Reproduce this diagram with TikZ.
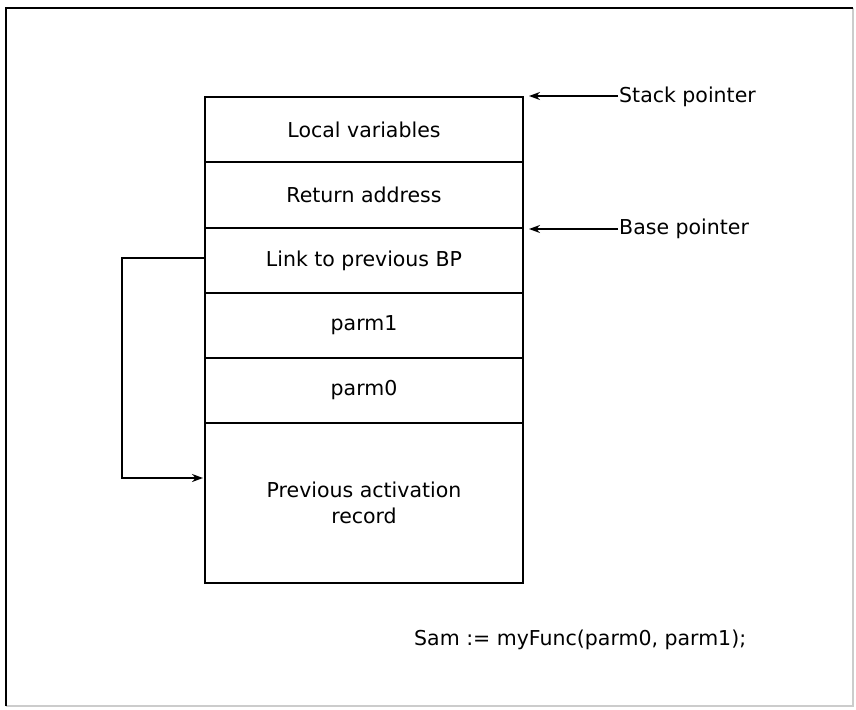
\documentclass[tikz,border=0pt]{standalone}
\usepackage{fontspec}
\setmainfont{DejaVu Sans}
\usetikzlibrary{arrows.meta}
\begin{document}
\begin{tikzpicture}[x=1pt,y=-1pt,
  cell/.style={draw,line width=2pt,minimum width=318pt,inner sep=0pt,font=\fontsize{20.5}{26}\selectfont,align=center},
  lbl/.style={font=\fontsize{20.5}{26}\selectfont,inner sep=1pt},
  ptr/.style={line width=1.5pt,-{Stealth[length=11pt,width=8pt]}}]
\useasboundingbox (0,0) rectangle (856,709);
\fill[white] (0,0) rectangle (856,709);
% frame
\draw[line width=1.2pt,gray!40] (853,8) -- (853,706) -- (6,706);
\draw[line width=1.8pt] (6,706) -- (6,8) -- (853,8);
% stack cells
\node[cell,minimum height=65pt] (local) at (364,129.5) {Local variables};
\node[cell,minimum height=66pt] (ret) at (364,195) {Return address};
\node[cell,minimum height=65pt] (link) at (364,260.5) {Link to previous BP};
\node[cell,minimum height=65pt] (p1) at (364,325.5) {parm1};
\node[cell,minimum height=65pt] (p0) at (364,390.5) {parm0};
\node[cell,minimum height=160pt] (prev) at (364,502.5) {Previous activation\\record};
% pointers
\node[lbl,anchor=west] (sp) at (618,97) {Stack pointer};
\node[lbl,anchor=west] (bp) at (618,229) {Base pointer};
\draw[ptr] (sp.west |- local.north east) -- ([xshift=5pt]local.north east);
\draw[ptr] (bp.west |- ret.south east) -- ([xshift=5pt]ret.south east);
% link
\coordinate (bend) at (122,258);
\coordinate (tgt) at (203,478);
\draw[ptr,line width=2pt] (link.west |- bend) -- (bend) |- (tgt);
% call
\node[lbl,anchor=west] (call) at (413,640) {Sam := myFunc(parm0, parm1);};
\end{tikzpicture}
\end{document}
